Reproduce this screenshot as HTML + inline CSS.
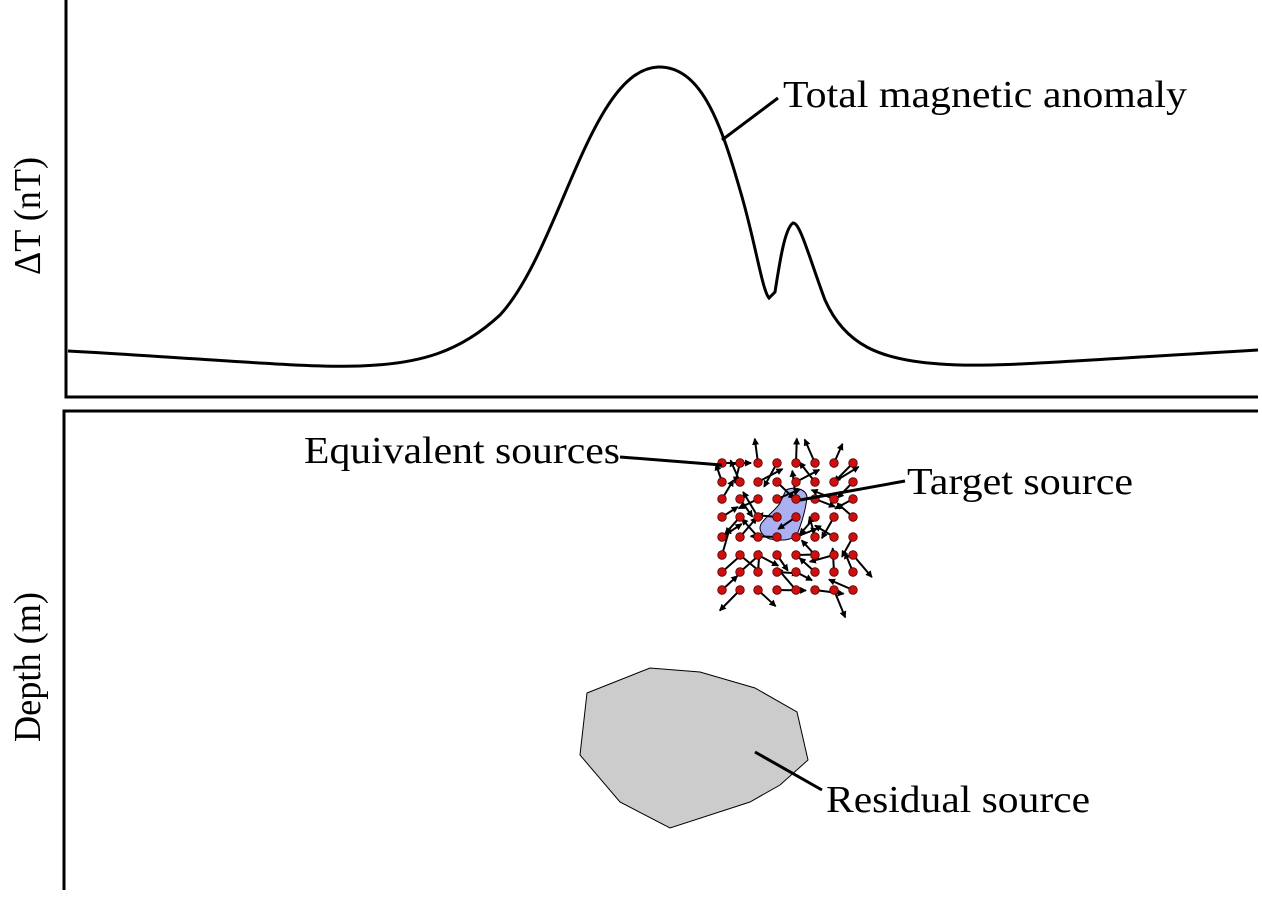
<!DOCTYPE html>
<html><head><meta charset="utf-8"><style>
html,body{margin:0;padding:0;background:#fff;}
svg{display:block;}
text{font-family:"Liberation Serif",serif;font-size:38px;fill:#000;}
</style></head><body>
<svg id="s" width="1262" height="902" viewBox="0 0 1262 902" xmlns="http://www.w3.org/2000/svg">
<defs><marker id="ah" markerWidth="7" markerHeight="7" refX="6" refY="3.5" orient="auto" markerUnits="userSpaceOnUse"><path d="M0,0 L7,3.5 L0,7 z" fill="#000"/></marker></defs>
<polygon points="587,693 650,668 700,672 755,688 797,712 808,760 780,785 750,802 670,828 620,802 580,755" fill="#cccccc" stroke="#000" stroke-width="1"/>
<path d="M786,490 C795,486 806,489 807,497 C806,508 802,522 797,535 C790,541 780,541 770,539 C762,536 758,530 761,524 C766,516 776,510 780,503 Z" fill="#aab0f2" stroke="#000" stroke-width="1"/>
<g id="g"></g>
<g stroke="#000" stroke-width="3" fill="none">
<path d="M66,0 V397 H1258"/>
<path d="M1258,411 H64 V890"/>
<path d="M68,351 C200,358 300,368 360,366 C420,364 460,352 500,315 C560,250 590,70 658,67 C700,66 720,120 740,190 C755,240 762,290 769,298 L775,292 C780,260 785,228 793,223 C800,222 810,260 825,300 C845,345 880,360 940,364 C990,368 1050,362 1258,350"/>
<path d="M722,140 L778,98"/>
<path d="M620,457 L722,465"/>
<path d="M800,500 L905,481"/>
<path d="M755,752 L822,790"/>
</g>
<text x="783" y="107" textLength="404" lengthAdjust="spacingAndGlyphs">Total magnetic anomaly</text>
<text x="304" y="463" textLength="316" lengthAdjust="spacingAndGlyphs">Equivalent sources</text>
<text x="907" y="494" textLength="226" lengthAdjust="spacingAndGlyphs">Target source</text>
<text x="826" y="812" textLength="264" lengthAdjust="spacingAndGlyphs">Residual source</text>
<text transform="translate(40,275) rotate(-90)" textLength="118" lengthAdjust="spacingAndGlyphs">ΔT (nT)</text>
<text transform="translate(40,742) rotate(-90)" textLength="150" lengthAdjust="spacingAndGlyphs">Depth (m)</text>
</svg>
<script>
var g=document.getElementById('g'),seed=7;
function r(){seed=(seed*16807)%2147483647;return seed/2147483647;}
var xs=[722,740,758,777,796,815,834,853],ys=[463,482,499,517,537,555,572,590],h='';
for(var j=0;j<8;j++)for(var i=0;i<8;i++){var x=xs[i],y=ys[j],a=r()*6.283,l=18+r()*12;
h+='<line x1="'+x+'" y1="'+y+'" x2="'+(x+l*Math.cos(a)).toFixed(1)+'" y2="'+(y+l*Math.sin(a)).toFixed(1)+'" stroke="#000" stroke-width="2" marker-end="url(#ah)"/>';}
for(var j=0;j<8;j++)for(var i=0;i<8;i++)h+='<circle cx="'+xs[i]+'" cy="'+ys[j]+'" r="4.3" fill="#cc1010" stroke="#500" stroke-width="0.8"/>';
g.innerHTML=h;
</script>
</body></html>
